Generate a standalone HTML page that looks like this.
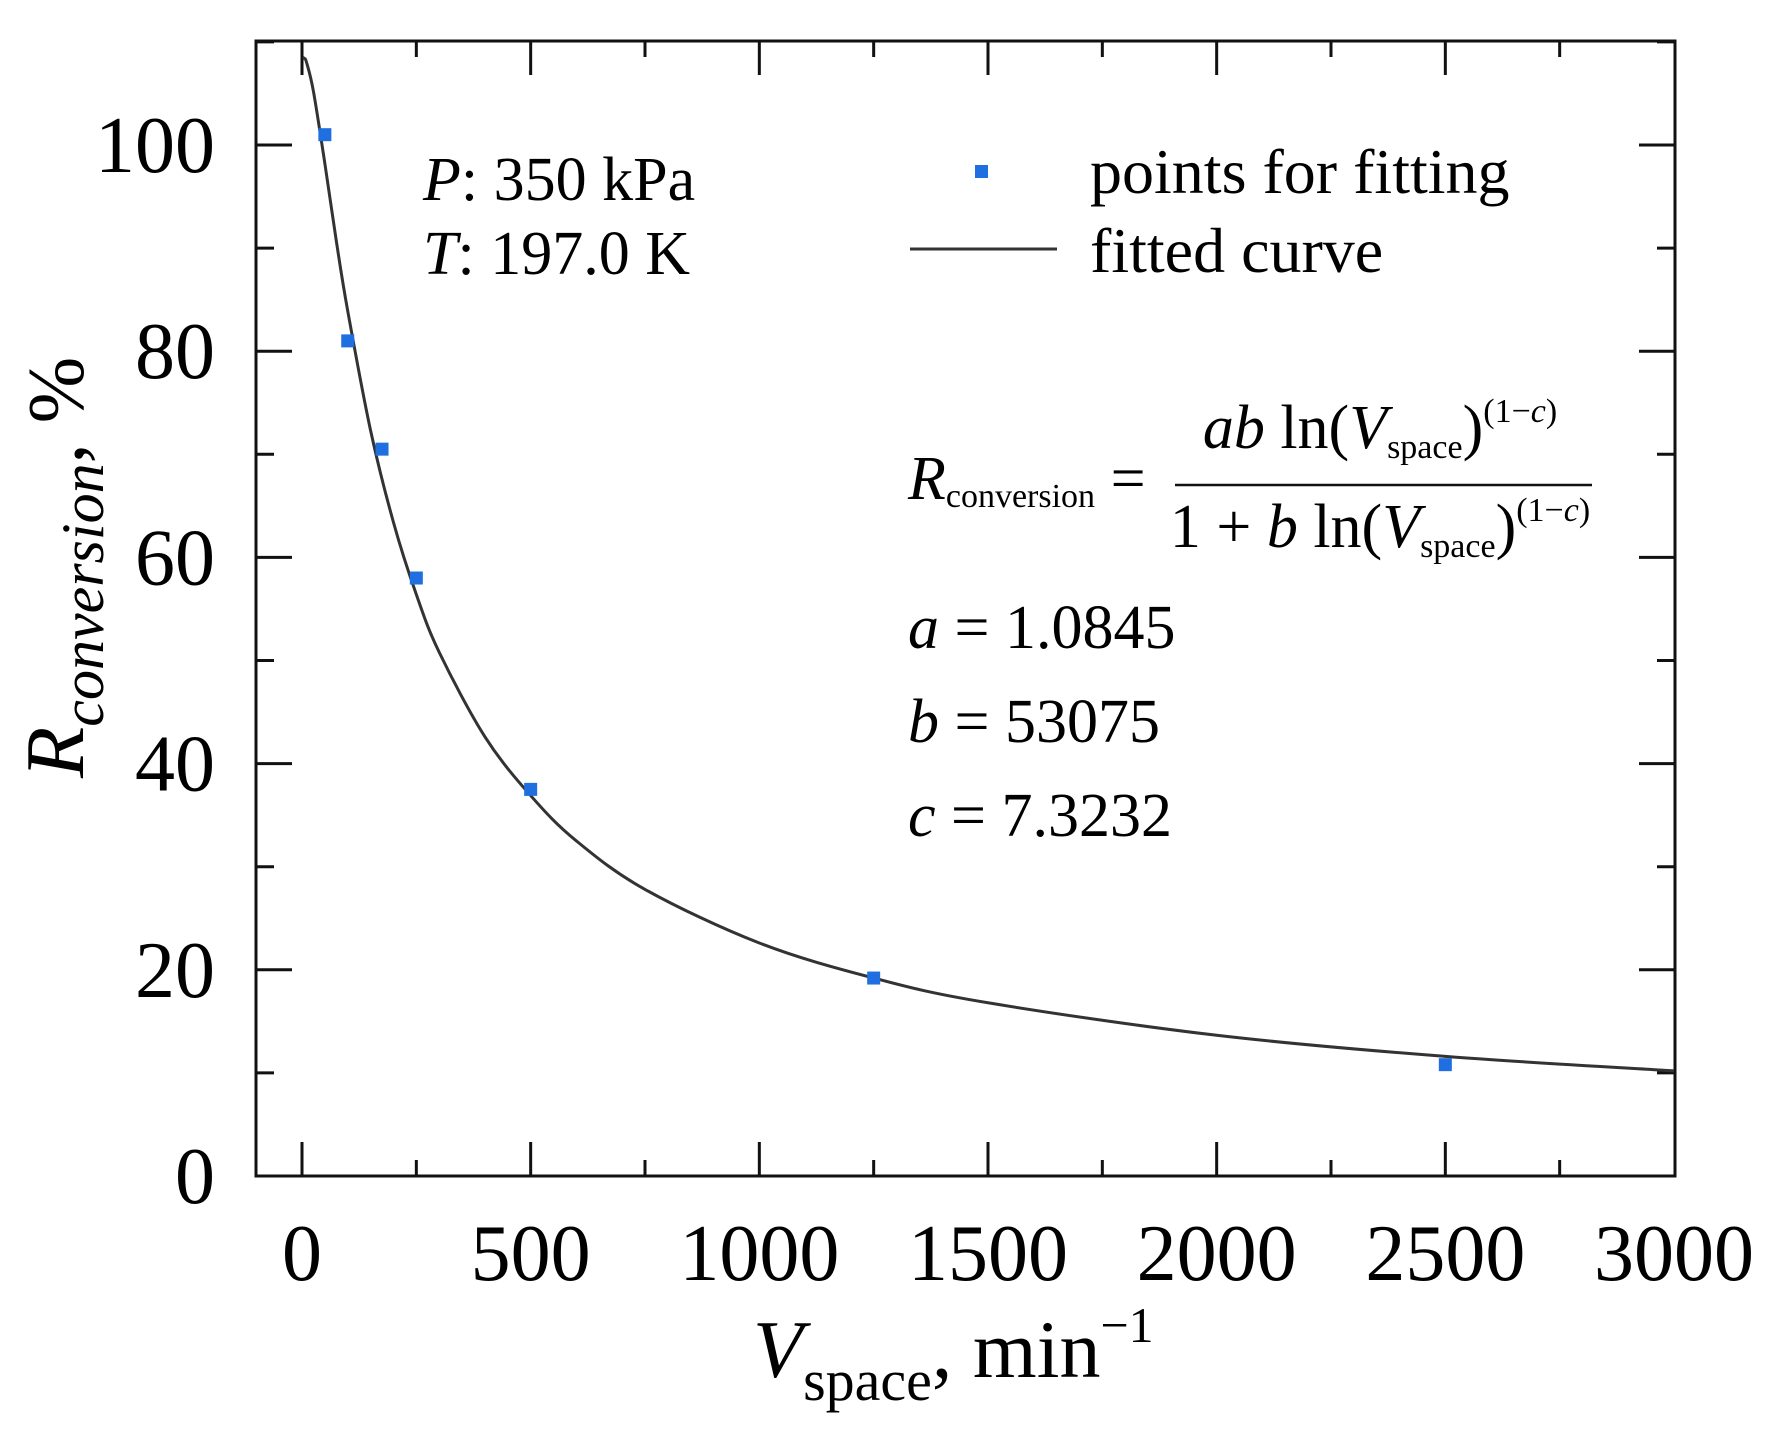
<!DOCTYPE html>
<html><head><meta charset="utf-8"><style>
body{margin:0;background:#fff}
svg{display:block;font-family:"Liberation Serif",serif}
</style></head><body>
<svg id="chart" width="1768" height="1443" viewBox="0 0 1768 1443">
<rect x="256" y="41" width="1419" height="1135" fill="none" stroke="#111" stroke-width="3"/>
<g id="ticks"></g>
<g id="curve-layer"></g>
<g id="pts"></g>
<text x="83" y="778" font-size="84" font-style="italic" transform="rotate(-90 83 778)">R<tspan font-size="60" dy="20">conversion</tspan><tspan dy="-20" font-style="normal" font-size="80">, %</tspan></text>
<text x="753" y="1377" font-size="82"><tspan font-style="italic">V</tspan><tspan font-size="58" dy="23">space</tspan><tspan dy="-23">, min</tspan><tspan font-size="50" dy="-35">−1</tspan></text>
<g font-size="62">
<text x="423" y="200"><tspan font-style="italic">P</tspan>: 350 kPa</text>
<text x="423" y="274"><tspan font-style="italic">T</tspan>: 197.0 K</text>
</g>
<g>
<rect x="975" y="165" width="13" height="13" fill="#1f6fe0"/>
<text x="1090" y="193" font-size="64">points for fitting</text>
<line x1="910" y1="249" x2="1057" y2="249" stroke="#333" stroke-width="3"/>
<text x="1090" y="272" font-size="64">fitted curve</text>
</g>
<g font-size="62">
<text x="908" y="499"><tspan font-style="italic">R</tspan><tspan font-size="34" dy="8">conversion</tspan><tspan dy="-8"> =</tspan></text>
<text x="1380" y="448" text-anchor="middle"><tspan font-style="italic">ab</tspan> ln(<tspan font-style="italic">V</tspan><tspan font-size="34" dy="10">space</tspan><tspan dy="-10">)</tspan><tspan font-size="34" dy="-26">(1−<tspan font-style="italic">c</tspan>)</tspan></text>
<line x1="1175" y1="485" x2="1592" y2="485" stroke="#111" stroke-width="2.5"/>
<text x="1380" y="547" text-anchor="middle">1 + <tspan font-style="italic">b</tspan> ln(<tspan font-style="italic">V</tspan><tspan font-size="34" dy="10">space</tspan><tspan dy="-10">)</tspan><tspan font-size="34" dy="-26">(1−<tspan font-style="italic">c</tspan>)</tspan></text>
<text x="908" y="648"><tspan font-style="italic">a</tspan> = 1.0845</text>
<text x="908" y="742"><tspan font-style="italic">b</tspan> = 53075</text>
<text x="908" y="836"><tspan font-style="italic">c</tspan> = 7.3232</text>
</g>
</svg>
<script>
const xTicks=[0,500,1000,1500,2000,2500,3000];
const yTicks=[0,20,40,60,80,100];
const pointsX=[50,100,175,250,500,1250,2500];
const pointsY=[101,81,70.5,58,37.5,19.2,10.8];
const curveX=[2,5,10,25,50,75,100,150,200,250,300,400,500,600,750,1000,1250,1500,2000,2500,3000];
const curveY=[108.5,108.4,108.0,105.2,98.2,90.7,83.9,72.3,63.4,56.4,50.8,42.6,36.9,32.5,27.8,22.6,19.2,16.8,13.65,11.6,10.2];
const NS="http://www.w3.org/2000/svg";
const px=v=>302+v*(1674-302)/3000;
const py=r=>1176-r*10.31;
function mk(tag,attrs,parent){const e=document.createElementNS(NS,tag);for(const k in attrs)e.setAttribute(k,attrs[k]);parent.appendChild(e);return e;}
const tg=document.getElementById('ticks');
for(let v=0;v<3000;v+=250){const major=v%500===0;const L=major?34:16;
 const t1=mk('line',{x1:px(v),x2:px(v),y1:1176,y2:1176-L,stroke:'#111','stroke-width':3},tg);
 
 
 const t2=mk('line',{x1:px(v),x2:px(v),y1:41,y2:41+L,stroke:'#111','stroke-width':3},tg);
 
 }
for(let r=0;r<=110;r+=10){const major=r%20===0;const L=major?36:18;
 const t1=mk('line',{x1:256,x2:256+L,y1:py(r),y2:py(r),stroke:'#111','stroke-width':3},tg);
 
 
 const t2=mk('line',{x1:1675,x2:1675-L,y1:py(r),y2:py(r),stroke:'#111','stroke-width':3},tg);
 
 }
xTicks.forEach(v=>{const t=mk('text',{x:px(v),y:1280,'font-size':80,'text-anchor':'middle'},tg);t.textContent=v;
 
 });
yTicks.forEach(r=>{const t=mk('text',{x:215,y:py(r)+27,'font-size':80,'text-anchor':'end'},tg);t.textContent=r;
 
 });
const P=curveX.map((v,i)=>[px(v),py(curveY[i])]);
let d='M'+P[0][0]+','+P[0][1];
for(let i=0;i<P.length-1;i++){const p0=P[Math.max(0,i-1)],p1=P[i],p2=P[i+1],p3=P[Math.min(P.length-1,i+2)];
 d+=' C'+(p1[0]+(p2[0]-p0[0])/6)+','+(p1[1]+(p2[1]-p0[1])/6)+' '+(p2[0]-(p3[0]-p1[0])/6)+','+(p2[1]-(p3[1]-p1[1])/6)+' '+p2[0]+','+p2[1];}
const c=mk('path',{d:d,fill:'none',stroke:'#333','stroke-width':3},document.getElementById('curve-layer'));


const pg=document.getElementById('pts');
pointsX.forEach((v,i)=>{const s=mk('rect',{x:px(v)-6.5,y:py(pointsY[i])-6.5,width:13,height:13,fill:'#1f6fe0'},pg);
 
 });
</script>
</body></html>
